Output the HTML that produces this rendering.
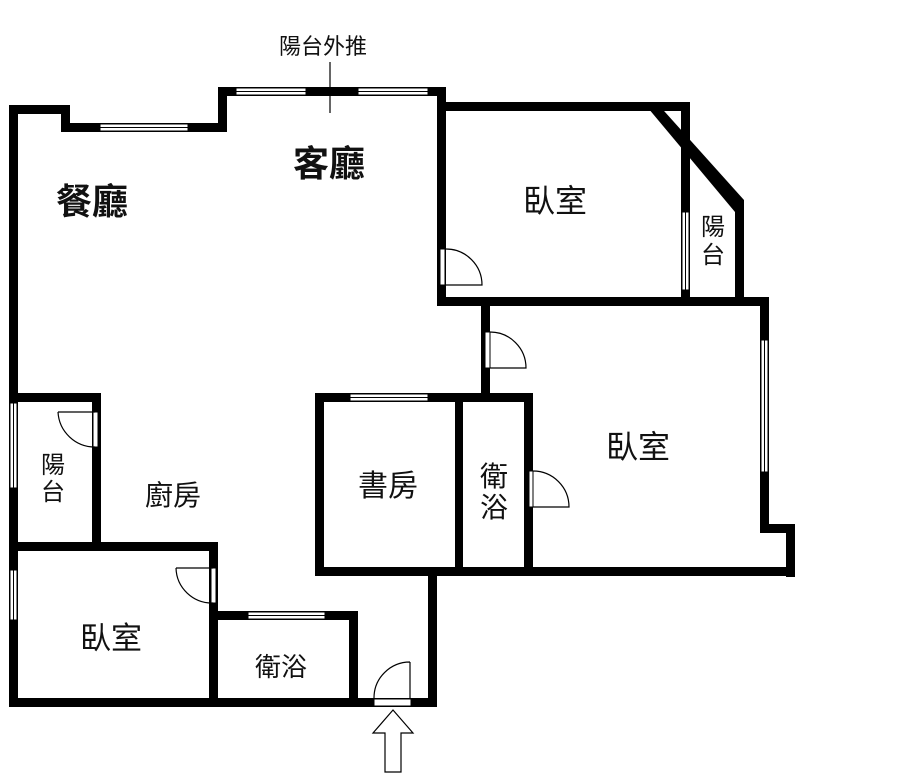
<!DOCTYPE html>
<html><head><meta charset="utf-8"><style>
html,body{margin:0;padding:0;background:#fff;}
svg{display:block;}
text{font-family:"Liberation Sans","Noto Sans CJK TC",sans-serif;fill:#111;}
</style></head><body>
<svg width="900" height="780" viewBox="0 0 900 780" xmlns="http://www.w3.org/2000/svg">
<g fill="#000">
<rect x="9" y="105" width="9" height="602"/>
<rect x="9" y="105" width="61" height="9"/>
<rect x="61" y="105" width="9" height="27"/>
<rect x="61" y="123" width="166" height="9"/>
<rect x="218" y="87" width="9" height="45"/>
<rect x="218" y="87" width="228" height="9"/>
<rect x="437" y="87" width="9" height="219"/>
<rect x="437" y="102" width="253" height="9"/>
<rect x="681" y="102" width="9" height="198"/>
<rect x="437" y="297" width="332" height="9"/>
<rect x="735" y="205" width="9" height="95"/>
<polygon points="643,102 656,102 744,200 744,212 735,212"/>
<rect x="481" y="306" width="9" height="96"/>
<rect x="760" y="297" width="9" height="236"/>
<rect x="760" y="524" width="35" height="9"/>
<rect x="786" y="524" width="9" height="53"/>
<rect x="315" y="567" width="480" height="9"/>
<rect x="315" y="393" width="218" height="9"/>
<rect x="315" y="393" width="9" height="183"/>
<rect x="455" y="393" width="8" height="183"/>
<rect x="524" y="393" width="9" height="183"/>
<rect x="428" y="567" width="9" height="140"/>
<rect x="9" y="698" width="428" height="9"/>
<rect x="9" y="393" width="92" height="9"/>
<rect x="92" y="393" width="9" height="152"/>
<rect x="9" y="542" width="209" height="9"/>
<rect x="209" y="542" width="9" height="165"/>
<rect x="218" y="611" width="140" height="9"/>
<rect x="349" y="611" width="9" height="96"/>
</g>
<g fill="#fff" stroke="#000" stroke-width="1">
<rect x="100" y="124" width="88" height="7"/><line x1="100" y1="127.5" x2="188" y2="127.5"/>
<rect x="236" y="88" width="70" height="7"/><line x1="236" y1="91.5" x2="306" y2="91.5"/>
<rect x="358" y="88" width="70" height="7"/><line x1="358" y1="91.5" x2="428" y2="91.5"/>
<rect x="10" y="403" width="7" height="85"/><line x1="13.5" y1="403" x2="13.5" y2="488"/>
<rect x="10" y="570" width="7" height="50"/><line x1="13.5" y1="570" x2="13.5" y2="620"/>
<rect x="761" y="340" width="7" height="132"/><line x1="764.5" y1="340" x2="764.5" y2="472"/>
<rect x="350" y="394" width="78" height="7"/><line x1="350" y1="397.5" x2="428" y2="397.5"/>
<rect x="248" y="612" width="77" height="7"/><line x1="248" y1="615.5" x2="325" y2="615.5"/>
<rect x="682" y="212" width="7" height="78"/><line x1="685.5" y1="212" x2="685.5" y2="290"/>
<rect x="440" y="249" width="5" height="36"/>
<rect x="485" y="332" width="5" height="36"/>
<rect x="529" y="471" width="4" height="36"/>
<rect x="93" y="412" width="5" height="35"/>
<rect x="211" y="568" width="5" height="35"/>
<rect x="374" y="699" width="37" height="7"/>
</g>
<g fill="none" stroke="#000" stroke-width="1.2">
<path d="M446,249 A36,36 0 0 1 482,285 L446,285"/>
<path d="M490,332 A36,36 0 0 1 526,368 L490,368"/>
<path d="M533,471 A36,36 0 0 1 569,507 L533,507"/>
<path d="M58,412 L95,412 M58,412 A37,37 0 0 0 95,447"/>
<path d="M176,568 L213,568 M176,568 A36,36 0 0 0 213,603"/>
<path d="M410,662 L410,698 M374,698 A36,36 0 0 1 410,662"/>
<line x1="330" y1="62" x2="330" y2="113"/>
<path d="M385,772 L385,733 L373,733 L393,710 L413,733 L401,733 L401,772 Z" fill="#fff"/>
</g>
<text x="323" y="54" font-size="22" text-anchor="middle">陽台外推</text>
<text x="329" y="176" font-size="36" text-anchor="middle" font-weight="bold">客廳</text>
<text x="92" y="214" font-size="36" text-anchor="middle" font-weight="bold">餐廳</text>
<text x="555" y="212" font-size="32" text-anchor="middle">臥室</text>
<text x="713" y="235" font-size="24" text-anchor="middle">陽</text>
<text x="713" y="263" font-size="24" text-anchor="middle">台</text>
<text x="638" y="458" font-size="32" text-anchor="middle">臥室</text>
<text x="388" y="496" font-size="30" text-anchor="middle">書房</text>
<text x="494" y="486" font-size="28" text-anchor="middle">衛</text>
<text x="494" y="517" font-size="28" text-anchor="middle">浴</text>
<text x="173" y="505" font-size="28" text-anchor="middle">廚房</text>
<text x="53" y="473" font-size="24" text-anchor="middle">陽</text>
<text x="53" y="500" font-size="24" text-anchor="middle">台</text>
<text x="111" y="649" font-size="31" text-anchor="middle">臥室</text>
<text x="281" y="676" font-size="26" text-anchor="middle">衛浴</text>
</svg>
</body></html>
